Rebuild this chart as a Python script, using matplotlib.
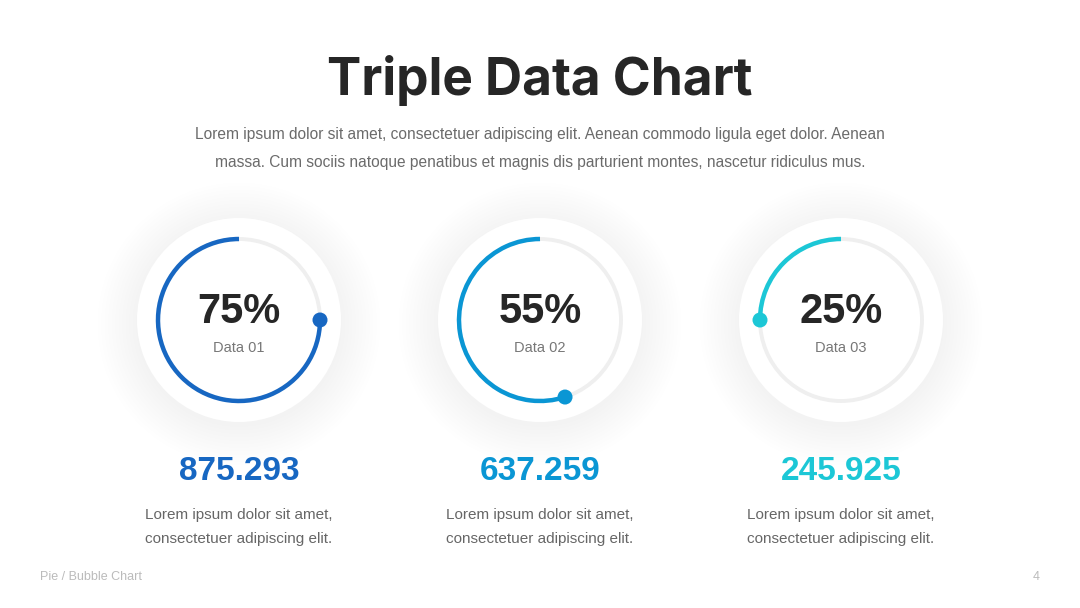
import math
import matplotlib.pyplot as plt
from matplotlib.patches import Circle, Arc

# data
labels = ["Data 01", "Data 02", "Data 03"]
percents = [75, 55, 25]
values = ["875.293", "637.259", "245.925"]
colors = ["#1767c2", "#0a96d4", "#1cc7d6"]

title = "Triple Data Chart"
subtitle = ("Lorem ipsum dolor sit amet, consectetuer adipiscing elit. Aenean commodo ligula eget dolor. Aenean\n"
            "massa. Cum sociis natoque penatibus et magnis dis parturient montes, nascetur ridiculus mus.")
desc = "Lorem ipsum dolor sit amet,\nconsectetuer adipiscing elit."

W, H = 1080, 608
fig = plt.figure(figsize=(W / 100, H / 100), dpi=100)
ax = fig.add_axes([0, 0, 1, 1])
ax.set_xlim(0, W)
ax.set_ylim(0, H)
ax.set_aspect("equal")
ax.axis("off")

def Y(py):
    return H - py

ax.text(540, Y(80), title, ha="center", va="center", fontsize=37,
        fontweight="bold", family="Inter", color="#262626")
ax.text(540, Y(148.5), subtitle, ha="center", va="center", fontsize=11.2,
        family="Liberation Sans", color="#6b6b6b", linespacing=2.05)

centers_x = [239, 540, 841]
cy = Y(320)
r_disc = 102
r_ring = 81

for cx, lab, p, val, c in zip(centers_x, labels, percents, values, colors):
    # soft shadow (alpha 1/255 per layer)
    for k in range(12):
        ax.add_patch(Circle((cx, cy - 4), r_disc + 1 + k * 3.5, color="#000000",
                            alpha=1.2 / 255, lw=0, zorder=1))
    ax.add_patch(Circle((cx, cy), r_disc, color="white", lw=0, zorder=2))
    ax.add_patch(Circle((cx, cy), r_ring, fill=False, ec="#efefef", lw=2.8, zorder=3))
    end = 90 + 360 * p / 100
    ax.add_patch(Arc((cx, cy), 2 * r_ring, 2 * r_ring, theta1=90, theta2=end,
                     color=c, lw=3.2, zorder=4))
    a = math.radians(end)
    ax.add_patch(Circle((cx + r_ring * math.cos(a), cy + r_ring * math.sin(a)), 7.5,
                        color=c, lw=0, zorder=5))
    ax.text(cx, Y(312), f"{p}%", ha="center", va="center", fontsize=30,
            fontweight="bold", family="Liberation Sans", color="#262626", zorder=6)
    ax.text(cx, Y(348), lab, ha="center", va="center", fontsize=10.5,
            family="Liberation Sans", color="#777777", zorder=6)
    ax.text(cx, Y(471), val, ha="center", va="center", fontsize=24,
            fontweight="bold", family="Liberation Sans", color=c)
    ax.text(cx, Y(527), desc, ha="center", va="center", fontsize=11,
            family="Liberation Sans", color="#666666", linespacing=1.9)

ax.text(40, Y(577), "Pie / Bubble Chart", ha="left", va="center", fontsize=9,
        family="Liberation Sans", color="#bbbbbb")
ax.text(1040, Y(577), "4", ha="right", va="center", fontsize=9,
        family="Liberation Sans", color="#bbbbbb")

fig.savefig("out.png", dpi=100)
